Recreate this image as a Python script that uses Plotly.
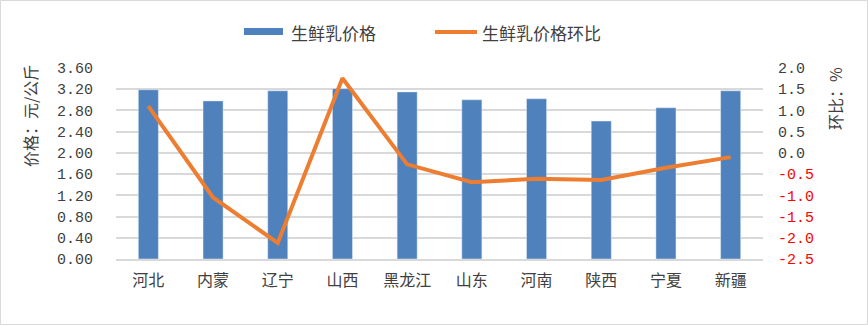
import plotly.graph_objects as go

categories = ["河北", "内蒙", "辽宁", "山西", "黑龙江", "山东", "河南", "陕西", "宁夏", "新疆"]
price = [3.19, 2.98, 3.17, 3.21, 3.15, 3.00, 3.02, 2.60, 2.85, 3.17]
mom = [1.10, -1.05, -2.12, 1.76, -0.27, -0.69, -0.61, -0.64, -0.35, -0.10]

left_ticks = [0.0, 0.4, 0.8, 1.2, 1.6, 2.0, 2.4, 2.8, 3.2, 3.6]
right_ticks = [-2.5, -2.0, -1.5, -1.0, -0.5, 0.0, 0.5, 1.0, 1.5, 2.0]

W, H = 868, 325
ML, MR, MT, MB = 116, 105, 68, 66
PW = W - ML - MR
PH = H - MT - MB

def px(x):
    return (x - ML) / PW

def py(y):
    return (H - MB - y) / PH

NUM = "Liberation Mono, monospace"
CJK = "Noto Sans CJK SC, sans-serif"
BLUE = "#4f81bd"
ORANGE = "#ed7d31"
TXT = "#404040"

def rt(v):
    s = f"{v:.1f}"
    if v < 0:
        return f"<span style='color:#ff0000'>{s}</span>"
    return s

fig = go.Figure()
fig.add_trace(go.Bar(x=categories, y=price, name="生鲜乳价格", marker_color=BLUE,
                     width=0.31, showlegend=False))
fig.add_trace(go.Scatter(x=categories, y=mom, name="生鲜乳价格环比", yaxis="y2",
                         mode="lines", line=dict(color=ORANGE, width=4), showlegend=False))

fig.update_layout(
    width=W, height=H,
    margin=dict(l=ML, r=MR, t=MT, b=MB),
    paper_bgcolor="white", plot_bgcolor="white",
    font=dict(family=CJK, size=15, color=TXT),
    xaxis=dict(showgrid=False, showline=True, linecolor="#d9d9d9", linewidth=1.5,
               tickfont=dict(family=CJK, size=16, color=TXT),
               ticks="", ticklabelstandoff=6),
    yaxis=dict(range=[0, 3.6], tickvals=left_ticks,
               ticktext=[f"{v:.2f}" for v in left_ticks],
               showgrid=True, gridcolor="#d9d9d9", gridwidth=1.5,
               zeroline=False, ticks="", ticklabelstandoff=22,
               tickfont=dict(family=NUM, size=15, color=TXT)),
    yaxis2=dict(range=[-2.5, 2.0], tickvals=right_ticks,
                ticktext=[rt(v) for v in right_ticks],
                overlaying="y", side="right", showgrid=False, zeroline=False,
                ticks="", ticklabelstandoff=14,
                tickfont=dict(family=NUM, size=15, color=TXT)),
    bargap=0.5,
)

annotations = [
    dict(text="价格：元/公斤", x=px(30), y=py(116), xref="paper", yref="paper",
         xanchor="center", yanchor="middle",
         textangle=-90, showarrow=False, font=dict(family=CJK, size=16, color=TXT)),
    dict(text="环比：%", x=px(835), y=py(99), xref="paper", yref="paper",
         xanchor="center", yanchor="middle",
         textangle=-90, showarrow=False, font=dict(family=CJK, size=16, color=TXT)),
    dict(text="生鲜乳价格", x=px(289), y=py(32), xref="paper", yref="paper",
         xanchor="left", yanchor="middle", showarrow=False,
         font=dict(family=CJK, size=17, color=TXT)),
    dict(text="生鲜乳价格环比", x=px(480), y=py(32), xref="paper", yref="paper",
         xanchor="left", yanchor="middle", showarrow=False,
         font=dict(family=CJK, size=17, color=TXT)),
]
shapes = [
    dict(type="rect", xref="paper", yref="paper", x0=px(244), x1=px(283), y0=py(35), y1=py(28),
         fillcolor=BLUE, line=dict(width=0)),
    dict(type="line", xref="paper", yref="paper", x0=px(435), x1=px(477), y0=py(32), y1=py(32),
         line=dict(color=ORANGE, width=4)),
    dict(type="rect", xref="paper", yref="paper", x0=px(0.5), x1=px(867.5), y0=py(0.5), y1=py(324.5),
         line=dict(color="#d9d9d9", width=1), fillcolor="rgba(0,0,0,0)", layer="below"),
]
fig.update_layout(annotations=annotations, shapes=shapes)

fig.write_html("out.html")
